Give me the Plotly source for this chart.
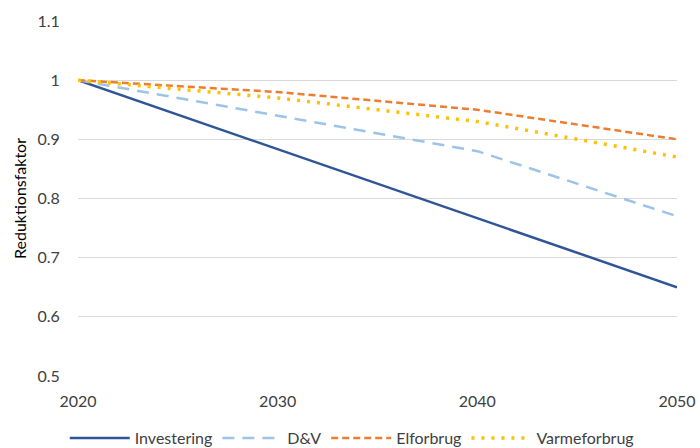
import plotly.graph_objects as go

years = [2020, 2030, 2040, 2050]
investering = [1.0, 0.883, 0.767, 0.65]
dv = [1.0, 0.94, 0.88, 0.77]
elforbrug = [1.0, 0.98, 0.95, 0.90]
varmeforbrug = [1.0, 0.97, 0.93, 0.87]

series = [
    ("Investering", investering, "#2F5597", "solid", 2.5),
    ("D&V", dv, "#9DC3E6", "12px,8px", 2.5),
    ("Elforbrug", elforbrug, "#ED7D31", "7px,4px", 2.5),
    ("Varmeforbrug", varmeforbrug, "#FFC000", "3px,7px", 3.5),
]

fig = go.Figure()
for name, vals, color, dash, w in series:
    fig.add_trace(go.Scatter(
        x=years, y=vals, name=name, mode="lines",
        line=dict(color=color, dash=dash, width=w),
    ))

font = dict(family="Lato, Open Sans, sans-serif", size=16, color="#595959")

fig.update_layout(
    width=700, height=448,
    margin=dict(l=78, r=23, t=21, b=72, autoexpand=False),
    paper_bgcolor="white", plot_bgcolor="white",
    font=font,
    showlegend=True,
    legend=dict(orientation="h", x=0.457, xanchor="center", y=-0.175, yanchor="middle",
                font=dict(size=16, color="#404040"), traceorder="normal",
                itemwidth=60),
    xaxis=dict(range=[2020, 2050], tickvals=years, showgrid=False,
               zeroline=False, showline=False, ticks="outside",
               ticklen=11, tickcolor="rgba(0,0,0,0)",
               tickfont=dict(size=16, color="#404040")),
    yaxis=dict(range=[0.5, 1.1], tickvals=[0.5, 0.6, 0.7, 0.8, 0.9, 1.0, 1.1],
               ticktext=["0.5", "0.6", "0.7", "0.8", "0.9", "1", "1.1"],
               showgrid=True, gridcolor="#D9D9D9", gridwidth=1.3,
               zeroline=False, showline=False, ticks="outside",
               ticklen=14, tickcolor="rgba(0,0,0,0)",
               tickfont=dict(size=16, color="#404040"),
               title=dict(text="Reduktionsfaktor", font=dict(size=16, color="#000000"),
                          standoff=6)),
)

fig.write_html("out.html")
